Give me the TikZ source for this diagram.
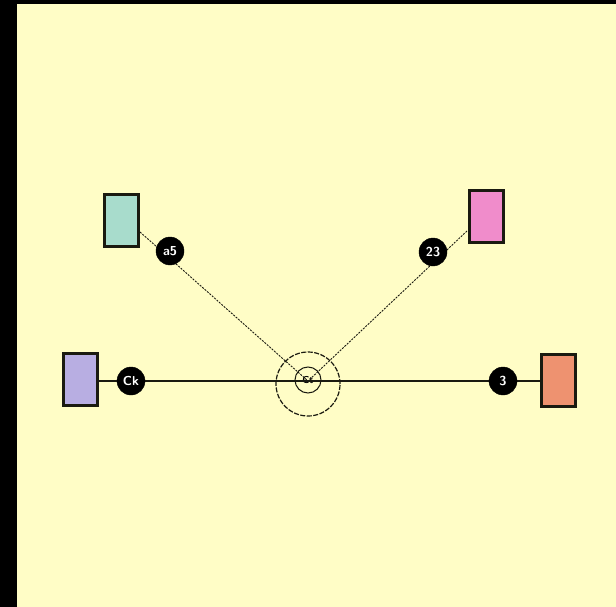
\documentclass[tikz,border=0pt]{standalone}
\usetikzlibrary{calc}
\definecolor{paper}{HTML}{FFFDC6}
\definecolor{tealfill}{HTML}{A8DCCC}
\definecolor{pinkfill}{HTML}{F08CCB}
\definecolor{lavfill}{HTML}{B8AEE2}
\definecolor{orfill}{HTML}{EE9270}
\definecolor{edge}{HTML}{1A1A10}
\begin{document}
\begin{tikzpicture}[x=1pt,y=-1pt,
  panel/.style={draw=edge,line width=3pt,minimum width=34pt,minimum height=52pt,inner sep=0pt},
  tag/.style={circle,fill=black,draw=black,text=white,minimum size=28pt,inner sep=0pt,font=\sffamily\bfseries\fontsize{13}{13}\selectfont},
  link/.style={draw=edge,line width=0.9pt,dash pattern=on 2pt off 1.2pt},
  axis/.style={draw=edge,line width=1.1pt}]
  \useasboundingbox (0,0) rectangle (616,607);
  \fill[black] (0,0) rectangle (616,607);
  \fill[paper] (17,4) rectangle (616,607);

  % hub
  \coordinate (hub) at (308,381);
  \node[circle,draw=edge,line width=1.2pt,dash pattern=on 5pt off 1.5pt,minimum size=64pt,inner sep=0pt] (ring) at (308,384) {};
  \node[circle,draw=edge,line width=1pt,minimum size=26pt,inner sep=0pt,font=\sffamily\bfseries\fontsize{10}{10}\selectfont] (core) at (308,380) {Ct};

  % panels
  \node[panel,fill=tealfill] (pTL) at (121.5,220.5) {};
  \node[panel,fill=pinkfill] (pTR) at (486,216.5) {};
  \node[panel,fill=lavfill]  (pL)  at (80,379.5) {};
  \node[panel,fill=orfill]   (pR)  at (558.5,380.5) {};

  % spokes
  \coordinate (aTL) at (140,232);
  \coordinate (aTR) at (467,231);
  \draw[link] (aTL) -- (hub);
  \draw[link] (aTR) -- (hub);
  \draw[axis] (pL.east |- hub) -- (pR.west |- hub);

  % tags
  \node[tag] (tTL) at (170,251) {a5};
  \node[tag] (tTR) at (433,252) {23};
  \node[tag] (tL)  at (131,381) {Ck};
  \node[tag] (tR)  at (503,381) {3};
\end{tikzpicture}
\end{document}
